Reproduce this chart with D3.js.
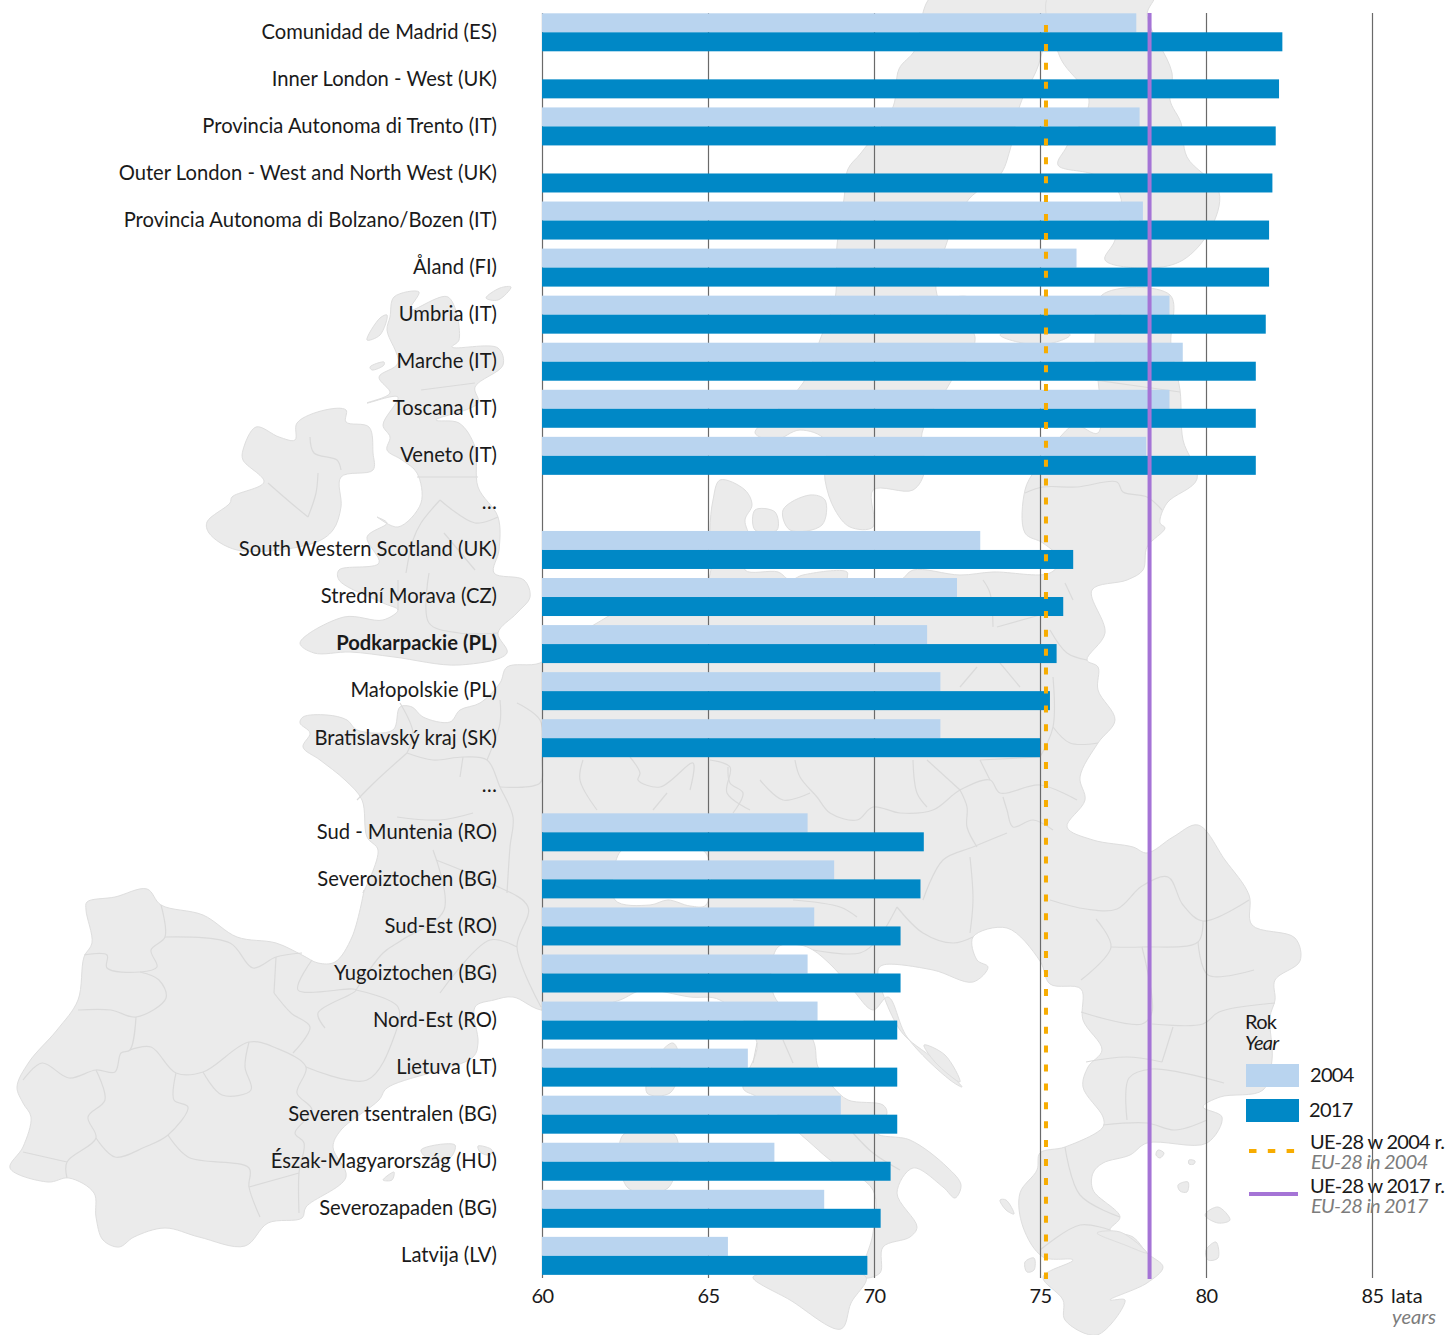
<!DOCTYPE html>
<html>
<head>
<meta charset="utf-8">
<script src="https://cdn.jsdelivr.net/npm/d3@7"></script>
<style>
    html, body { margin: 0; background: #fff; }
    svg { display: block; }
    text { font-family: Lato, "Noto Sans", sans-serif; font-size: 20px; fill: #1a1a1a; }
    .tick text { font-family: Lato, "Noto Sans", sans-serif; font-size: 20px; fill: #1a1a1a; letter-spacing: -0.5px; }
    .region { font-size: 20.2px; }
    .legend text { letter-spacing: -0.7px; }
    .alt { font-style: italic; fill: #7c7c7c; }
</style>
</head>
<body>
<script>
var regions = ["Comunidad de Madrid (ES)", "Inner London - West (UK)", "Provincia Autonoma di Trento (IT)",
    "Outer London - West and North West (UK)", "Provincia Autonoma di Bolzano/Bozen (IT)", "Åland (FI)",
    "Umbria (IT)", "Marche (IT)", "Toscana (IT)", "Veneto (IT)", "…",
    "South Western Scotland (UK)", "Strední Morava (CZ)", "Podkarpackie (PL)", "Małopolskie (PL)",
    "Bratislavský kraj (SK)", "… ",
    "Sud - Muntenia (RO)", "Severoiztochen (BG)", "Sud-Est (RO)", "Yugoiztochen (BG)", "Nord-Est (RO)",
    "Lietuva (LT)", "Severen tsentralen (BG)", "Észak-Magyarország (HU)", "Severozapaden (BG)", "Latvija (LV)"];
var values2004 = [77.9, null, 78.0, null, 78.1, 76.1, 78.9, 79.3, 78.9, 78.2, null,
    73.2, 72.5, 71.6, 72.0, 72.0, null,
    68.0, 68.8, 68.2, 68.0, 68.3, 66.2, 69.0, 67.0, 68.5, 65.6];
var values2017 = [82.3, 82.2, 82.1, 82.0, 81.9, 81.9, 81.8, 81.5, 81.5, 81.5, null,
    76.0, 75.7, 75.5, 75.3, 75.0, null,
    71.5, 71.4, 70.8, 70.8, 70.7, 70.7, 70.7, 70.5, 70.2, 69.8];
var ticks = [60, 65, 70, 75, 80, 85];
var eu2004 = 75.18;
var eu2017 = 78.3;
var boldRegion = "Podkarpackie (PL)";

// backdrop map (page pixels), no data in it
var mapLand = [
    // continent from Galicia round to Greece and Italy
    [[87,902],[115,897],[147,889],[161,905],[203,915],[237,937],[276,943],[302,955],[318,963],[335,962],[352,937],[364,890],[363,893],[378,850],[367,837],[362,800],[345,780],[320,760],[303,747],[310,733],[300,723],[303,717],[327,715],[347,720],[357,730],[393,730],[400,707],[412,707],[423,717],[450,722],[460,710],[480,703],[500,683],[507,667],[540,663],[570,640],[597,623],[640,600],[680,592],[705,585],[712,560],[710,530],[713,500],[720,480],[745,490],[752,505],[745,520],[750,540],[745,570],[778,572],[790,580],[803,575],[847,572],[848,580],[900,580],[913,570],[960,575],[993,572],[1050,573],[1060,560],[1043,543],[1025,533],[1025,490],[1035,470],[1060,437],[1075,425],[1098,433],[1095,340],[1102,295],[1170,295],[1171,345],[1180,390],[1183,440],[1197,479],[1167,503],[1160,523],[1165,528],[1147,547],[1143,570],[1127,580],[1092,590],[1105,633],[1087,660],[1098,667],[1098,690],[1115,720],[1098,743],[1080,777],[1085,800],[1067,827],[1093,840],[1133,847],[1147,853],[1173,837],[1198,825],[1225,860],[1249,895],[1252,925],[1295,938],[1300,961],[1275,980],[1275,1000],[1270,1017],[1272,1060],[1263,1090],[1220,1097],[1203,1107],[1222,1117],[1207,1143],[1147,1143],[1130,1155],[1103,1163],[1093,1173],[1093,1190],[1120,1217],[1110,1230],[1133,1237],[1147,1253],[1163,1267],[1147,1283],[1110,1300],[1125,1300],[1097,1335],[1065,1320],[1063,1300],[1043,1277],[1073,1260],[1043,1257],[1023,1227],[1020,1193],[1037,1170],[1040,1153],[1065,1147],[1103,1127],[1103,1117],[1083,1087],[1088,1067],[1102,1050],[1083,1020],[1081,989],[1050,984],[1040,961],[1007,928],[973,937],[977,960],[988,967],[973,982],[933,970],[883,965],[878,970],[900,1030],[935,1060],[962,1087],[950,1080],[907,1037],[888,997],[873,1010],[853,990],[833,967],[813,950],[800,945],[778,947],[773,993],[813,1040],[818,1067],[833,1087],[848,1100],[883,1105],[887,1113],[877,1133],[910,1140],[947,1167],[961,1185],[955,1198],[943,1187],[913,1168],[897,1193],[917,1227],[910,1237],[883,1247],[880,1273],[862,1277],[873,1233],[873,1190],[830,1160],[807,1140],[757,1097],[743,1088],[757,1043],[720,1000],[690,997],[643,990],[620,1000],[590,1008],[541,1010],[513,997],[494,1000],[475,1007],[478,1043],[473,1057],[387,1088],[379,1100],[341,1130],[333,1147],[346,1177],[306,1207],[302,1218],[268,1223],[245,1246],[199,1237],[165,1228],[134,1237],[119,1247],[103,1240],[96,1217],[94,1193],[69,1178],[48,1182],[10,1168],[23,1147],[31,1117],[23,1103],[17,1087],[29,1062],[57,1030],[78,1000],[84,957],[92,943],[86,910]],
    // Britain
    [[394,297],[419,292],[410,310],[448,297],[459,340],[452,347],[498,348],[503,365],[475,387],[478,403],[436,420],[459,423],[475,447],[478,487],[498,517],[499,550],[494,573],[524,580],[530,597],[517,613],[498,633],[507,653],[459,665],[394,657],[350,652],[314,653],[300,643],[344,617],[383,620],[398,610],[383,603],[339,580],[339,570],[379,563],[367,537],[387,523],[377,517],[398,527],[421,503],[417,473],[402,460],[387,450],[390,437],[383,425],[398,397],[367,403],[390,393],[379,377],[398,363],[387,330],[390,317]],
    // Ireland
    [[297,423],[325,410],[346,410],[346,422],[369,427],[373,453],[373,470],[341,477],[341,507],[333,530],[314,543],[237,550],[209,533],[207,522],[230,503],[232,497],[264,482],[243,460],[243,450],[256,427],[279,437],[295,440]],
    // Norway and Sweden
    [[933,-5],[915,50],[899,69],[893,107],[861,153],[848,169],[844,199],[837,245],[835,299],[821,337],[803,383],[775,412],[755,433],[775,440],[800,430],[825,440],[825,480],[835,510],[850,527],[873,527],[873,490],[913,490],[925,470],[922,433],[950,383],[975,337],[937,295],[946,245],[969,199],[1000,175],[1010,150],[1020,105],[1040,60],[1045,-5]],
    // Finland
    [[1049,-5],[1060,57],[1089,100],[1067,146],[1058,165],[1095,175],[1120,195],[1115,240],[1105,260],[1150,268],[1183,260],[1210,230],[1219,192],[1187,157],[1181,123],[1170,100],[1172,73],[1147,15],[1154,-5]],
    // Danish islands
    [[783,510],[810,495],[825,500],[822,525],[790,530]],
    [[755,510],[775,512],[777,530],[755,530]],
    // Baltic and Mediterranean islands
    [[1000,335],[1040,325],[1070,335],[1040,345]],
    [[950,300],[970,298],[965,325],[950,330]],
    [[623,1135],[675,1135],[668,1188],[628,1188]],
    [[673,1043],[680,1063],[670,1093],[647,1093],[655,1060]],
    [[753,1277],[790,1300],[841,1329],[851,1303],[866,1277]],
    [[421,1150],[455,1145],[450,1158],[430,1160]],
    [[478,1146],[492,1150],[490,1155],[480,1152]],
    [[383,1180],[394,1172],[392,1180]],
    [[1205,1215],[1218,1207],[1230,1220],[1218,1223]],
    [[1097,1233],[1120,1232],[1147,1253],[1125,1245]],
    [[1000,1200],[1006,1200],[1014,1214],[1006,1210]],
    [[1025,1262],[1034,1258],[1034,1270],[1027,1272]],
    [[1206,1250],[1216,1242],[1218,1258],[1208,1260]],
    [[1158,1150],[1164,1153],[1160,1158],[1156,1155]],
    [[1189,1160],[1195,1161],[1194,1164],[1189,1164]],
    [[1178,1185],[1188,1182],[1187,1192],[1180,1191]],
    [[367,340],[380,318],[387,315],[380,335]],
    [[370,367],[384,362],[384,365],[372,370]],
    [[486,298],[500,288],[511,287],[498,300]],
    [[924,1045],[945,1055],[960,1082],[935,1062]]
];
// white islands inside the land: Switzerland
var mapHoles = [
    [[620,852],[635,848],[705,852],[706,905],[690,906],[668,900],[650,905],[615,900]]
];
var mapBorders = [
    [[795,760],[800,777],[817,797],[830,813],[857,820],[873,807],[900,813],[933,810],[960,790],[990,780],[1000,793],[1040,785],[1077,800]],
    [[960,790],[967,807],[967,827],[977,847]],
    [[1003,797],[1007,810],[1013,827],[1033,820],[1053,830]],
    [[980,760],[990,780]],
    [[913,760],[917,793],[927,807]],
    [[927,760],[960,790]],
    [[728,767],[730,783],[743,793],[733,813]],
    [[760,780],[783,800],[810,793]],
    [[1025,493],[1043,487],[1077,487],[1117,482],[1123,492],[1147,497],[1162,510]],
    [[1095,380],[1130,385],[1180,392]],
    [[1100,300],[1130,320],[1171,330]],
    [[983,580],[990,593],[993,627]],
    [[1065,583],[1073,600]],
    [[997,627],[1040,615]],
    [[1050,630],[1067,653],[1087,660]],
    [[1053,677],[1053,727],[1040,757]],
    [[977,667],[960,687]],
    [[1000,663],[1020,687]],
    [[1053,727],[1070,743],[1098,743]],
    [[980,760],[1040,757]],
    [[853,1133],[873,1153],[900,1170]],
    [[783,1040],[793,1063]],
    [[757,1043],[753,1063]],
    [[897,907],[923,933],[953,943],[973,937]],
    [[793,900],[840,907],[857,917]],
    [[813,950],[860,953],[877,940],[897,907]],
    [[923,900],[943,860],[973,847],[1007,833]],
    [[970,857],[973,900],[970,933]],
    [[407,753],[377,780],[357,800]],
    [[407,753],[433,760],[463,757],[487,760],[500,787],[513,817],[510,847],[507,893]],
    [[397,817],[440,820],[473,813]],
    [[500,700],[500,723],[487,760]],
    [[463,757],[460,777]],
    [[400,703],[413,733],[407,753]],
    [[517,703],[540,720],[542,760],[540,783],[500,787]],
    [[583,760],[580,780],[597,810]],
    [[630,757],[640,773],[638,780],[660,787],[693,763],[690,790]],
    [[653,810],[667,793]],
    [[710,760],[730,767],[727,793],[750,810]],
    [[161,905],[165,937],[151,950],[157,967],[140,972],[107,968],[107,955],[84,955]],
    [[165,937],[230,943],[253,968],[276,957],[302,953]],
    [[140,972],[159,980],[166,998],[136,1017],[111,1010],[78,1010]],
    [[136,1017],[130,1050],[121,1053],[115,1072],[96,1070],[69,1078],[42,1063],[23,1080]],
    [[96,1070],[105,1100],[88,1117],[96,1138],[67,1162],[67,1178]],
    [[67,1162],[23,1152]],
    [[130,1050],[151,1047],[176,1073],[203,1072],[249,1042],[276,1048],[306,1067],[297,1093],[312,1110],[295,1133],[304,1143],[299,1173],[299,1213]],
    [[176,1073],[174,1100],[188,1107],[168,1135],[145,1147],[115,1157],[96,1138]],
    [[168,1135],[188,1157],[249,1168],[249,1187],[260,1217]],
    [[249,1187],[299,1173]],
    [[249,1042],[245,1067],[251,1090],[222,1095],[203,1072]],
    [[312,960],[298,990],[356,990],[318,1013],[325,1028]],
    [[356,990],[398,1007],[394,1037],[367,1080],[306,1067]],
    [[274,993],[276,957]],
    [[274,993],[291,1013],[310,1027],[293,1053]],
    [[433,850],[444,910],[402,940],[383,953],[356,990]],
    [[436,860],[490,883],[528,907],[517,947],[541,1007]],
    [[440,993],[490,940],[517,947]],
    [[417,477],[478,477]],
    [[421,390],[475,383]],
    [[310,437],[314,453],[337,460],[341,470]],
    [[318,473],[316,493],[308,517]],
    [[268,483],[291,503],[308,517]],
    [[440,500],[421,523],[413,540],[406,573]],
    [[440,500],[475,523],[498,517]],
    [[429,573],[429,623],[459,633],[498,633]],
    [[398,580],[398,610]],
    [[444,533],[475,570]],
    // Romania and Bulgaria
    [[1050,900],[1086,909],[1117,909],[1142,886],[1168,877],[1183,905],[1203,921],[1249,900]],
    [[1096,919],[1111,947],[1081,980]],
    [[1111,947],[1142,947],[1198,942],[1203,921]],
    [[1142,947],[1152,1012],[1142,1024],[1081,1012]],
    [[1198,942],[1208,975],[1254,970]],
    [[1152,1024],[1203,1024],[1219,1012],[1275,1003]],
    [[1162,1062],[1173,1027]],
    [[1127,1120],[1129,1078],[1152,1069],[1224,1083]],
    [[1086,1062],[1127,1057],[1162,1062]],
    [[1103,1125],[1147,1123],[1175,1130],[1207,1120]],
    [[1065,1147],[1080,1195],[1120,1217]],
    [[1040,1250],[1080,1225],[1110,1230]]
];

var width = 1454;
var height = 1335;
var yTop = 13.3;
var yBottom = 1278;
var barHeight = 19;

var svg = d3.select("body").append("svg")
    .attr("width", width)
    .attr("height", height);

var x = d3.scaleLinear().domain([60, 85]).range([542, 1372]);
var y = d3.scaleBand().domain(regions).range([yTop, yTop + 47.06 * regions.length]);

var landLine = d3.line().curve(d3.curveCatmullRomClosed.alpha(0.5));
var borderLine = d3.line().curve(d3.curveCatmullRom.alpha(0.5));

var map = svg.append("g").attr("class", "map");
map.selectAll("path.land").data(mapLand).enter().append("path")
    .attr("class", "land")
    .attr("d", landLine)
    .attr("fill", "#ebebeb")
    .attr("stroke", "#dedede")
    .attr("stroke-width", 1);
map.selectAll("path.hole").data(mapHoles).enter().append("path")
    .attr("class", "hole")
    .attr("d", landLine)
    .attr("fill", "#fff")
    .attr("stroke", "#dedede");
map.selectAll("path.border").data(mapBorders).enter().append("path")
    .attr("class", "border")
    .attr("d", borderLine)
    .attr("fill", "none")
    .attr("stroke", "#dadada")
    .attr("stroke-width", 1.2);

// axis ticks double as the grid lines
var axis = svg.append("g")
    .attr("class", "axis")
    .attr("transform", "translate(0," + yBottom + ")")
    .call(d3.axisBottom(x).tickValues(ticks).tickSize(13 - yBottom).tickPadding(11));
axis.select(".domain").remove();
axis.selectAll(".tick line").attr("stroke", "#6a6a6a").attr("stroke-width", 1.2);
axis.selectAll(".tick text").attr("y", 11).attr("dy", "0.71em");

var rows = regions.map(function(name, i)
{
    return { name: name, v2004: values2004[i], v2017: values2017[i] };
});

svg.selectAll("rect.bar2004")
    .data(rows.filter(function(d) { return d.v2004 != null; }))
    .enter().append("rect")
    .attr("class", "bar2004")
    .attr("x", x(60))
    .attr("y", function(d) { return y(d.name); })
    .attr("width", function(d) { return x(d.v2004) - x(60); })
    .attr("height", barHeight)
    .attr("fill", "#b9d4ef");

svg.selectAll("rect.bar2017")
    .data(rows.filter(function(d) { return d.v2017 != null; }))
    .enter().append("rect")
    .attr("class", "bar2017")
    .attr("x", x(60))
    .attr("y", function(d) { return y(d.name) + barHeight; })
    .attr("width", function(d) { return x(d.v2017) - x(60); })
    .attr("height", barHeight)
    .attr("fill", "#0088c6");

svg.selectAll("text.region")
    .data(regions)
    .enter().append("text")
    .attr("class", "region")
    .attr("x", 497)
    .attr("y", function(d) { return y(d) + 25.3; })
    .attr("text-anchor", "end")
    .style("font-weight", function(d) { return d == boldRegion ? 700 : 400; })
    .text(function(d) { return d.trim(); });

// EU averages
svg.append("line")
    .attr("x1", x(eu2004)).attr("x2", x(eu2004))
    .attr("y1", 13).attr("y2", yBottom + 1)
    .attr("stroke", "#f7ac00")
    .attr("stroke-width", 4)
    .attr("stroke-dasharray", "7 11.9")
    .attr("stroke-dashoffset", 6.9);
svg.append("line")
    .attr("x1", x(eu2017)).attr("x2", x(eu2017))
    .attr("y1", 13).attr("y2", yBottom + 1)
    .attr("stroke", "#a574d6")
    .attr("stroke-width", 4);

// axis unit
svg.append("text").attr("x", 1391).attr("y", 1303).text("lata");
svg.append("text").attr("class", "alt").attr("x", 1436).attr("y", 1324).attr("text-anchor", "end").text("years");

// legend
var legend = svg.append("g").attr("class", "legend");
legend.append("text").attr("x", 1245).attr("y", 1029).text("Rok");
legend.append("text").attr("x", 1245).attr("y", 1050).style("font-style", "italic").text("Year");
legend.append("rect").attr("x", 1246).attr("y", 1064).attr("width", 53).attr("height", 23).attr("fill", "#b9d4ef");
legend.append("rect").attr("x", 1246).attr("y", 1099).attr("width", 53).attr("height", 23).attr("fill", "#0088c6");
legend.append("text").attr("x", 1310).attr("y", 1082).text("2004");
legend.append("text").attr("x", 1309).attr("y", 1117).text("2017");
legend.append("line").attr("x1", 1249).attr("x2", 1295).attr("y1", 1151).attr("y2", 1151)
    .attr("stroke", "#f7ac00").attr("stroke-width", 4).attr("stroke-dasharray", "7.5 11.3");
legend.append("text").attr("x", 1310).attr("y", 1149).text("UE-28 w 2004 r.");
legend.append("text").attr("class", "alt").attr("x", 1311).attr("y", 1169).text("EU-28 in 2004");
legend.append("line").attr("x1", 1249).attr("x2", 1298).attr("y1", 1194).attr("y2", 1194)
    .attr("stroke", "#a574d6").attr("stroke-width", 4);
legend.append("text").attr("x", 1310).attr("y", 1193).text("UE-28 w 2017 r.");
legend.append("text").attr("class", "alt").attr("x", 1311).attr("y", 1213).text("EU-28 in 2017");
</script>
</body>
</html>
